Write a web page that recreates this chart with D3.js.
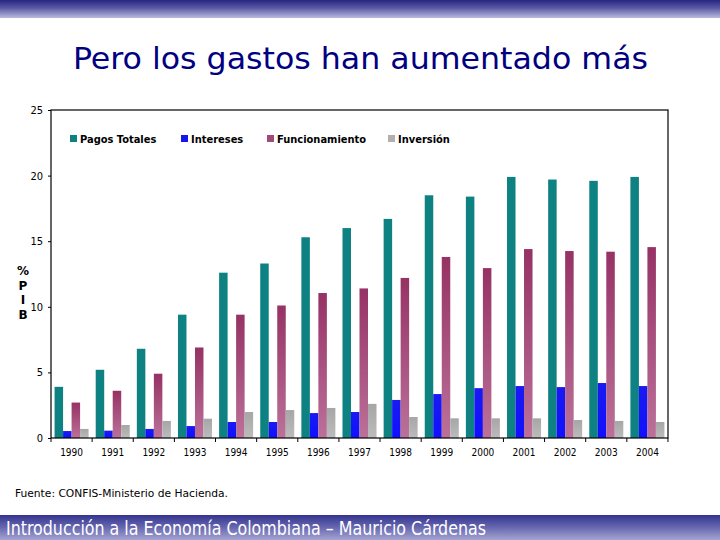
<!DOCTYPE html>
<html>
<head>
<meta charset="utf-8">
<script src="https://cdn.jsdelivr.net/npm/d3@7"></script>
<style>
  body { margin: 0; background: #fff; }
  svg { display: block; }
</style>
</head>
<body>
<div id="chart"></div>
<script>
var years = ['1990','1991','1992','1993','1994','1995','1996','1997','1998','1999','2000','2001','2002','2003','2004'];
var seriesNames = ['Pagos Totales', 'Intereses', 'Funcionamiento', 'Inversión'];
var pagosTotales   = [3.9, 5.2, 6.8, 9.4, 12.6, 13.3, 15.3, 16.0, 16.7, 18.5, 18.4, 19.9, 19.7, 19.6, 19.9];
var intereses      = [0.53, 0.56, 0.69, 0.91, 1.22, 1.22, 1.9, 1.98, 2.9, 3.35, 3.8, 3.96, 3.88, 4.19, 3.96];
var funcionamiento = [2.7, 3.6, 4.9, 6.9, 9.4, 10.1, 11.05, 11.4, 12.2, 13.8, 12.95, 14.4, 14.25, 14.2, 14.55];
var inversion      = [0.69, 0.99, 1.3, 1.47, 1.98, 2.13, 2.29, 2.6, 1.6, 1.5, 1.5, 1.5, 1.37, 1.3, 1.22];
var yTicks = [0, 5, 10, 15, 20, 25];

var series = [pagosTotales, intereses, funcionamiento, inversion];
var fills = ['#0e8282', 'url(#gBlue)', 'url(#gFunc)', 'url(#gInv)'];
var legendFills = ['#0e8282', '#1515f0', '#a04a78', '#b0b0b0'];

var W = 720, H = 540;
var margin = {top: 110, right: 52, bottom: 102, left: 51};
var width = W - margin.left - margin.right,
    height = H - margin.top - margin.bottom;

var svg = d3.select('#chart').append('svg')
    .attr('width', W)
    .attr('height', H);

var defs = svg.append('defs');
function vgrad(id, stops) {
  var g = defs.append('linearGradient').attr('id', id)
    .attr('x1', 0).attr('y1', 0).attr('x2', 0).attr('y2', 1);
  stops.forEach(function(s) {
    g.append('stop').attr('offset', s[0]).attr('stop-color', s[1]);
  });
}
vgrad('gTop', [[0, '#262680'], [0.45, '#5a5aa6'], [1, '#babade']]);
vgrad('gBot', [[0, '#343490'], [0.5, '#6868b0'], [1, '#a4a4d2']]);
vgrad('gFunc', [[0, '#963264'], [1, '#bb7199']]);
vgrad('gBlue', [[0, '#1a1af2'], [1, '#1010ff']]);
vgrad('gInv', [[0, '#a6a6a6'], [1, '#bcbcbc']]);

// banners
svg.append('rect').attr('x', 0).attr('y', 0).attr('width', W).attr('height', 18)
  .style('fill', 'url(#gTop)');
svg.append('rect').attr('x', 0).attr('y', 515).attr('width', W).attr('height', 25)
  .style('fill', 'url(#gBot)');

svg.append('text')
  .attr('x', 73).attr('y', 69)
  .attr('textLength', 575).attr('lengthAdjust', 'spacingAndGlyphs')
  .style('font-family', 'DejaVu Sans Condensed, DejaVu Sans')
  .style('font-size', '31px')
  .style('fill', '#000080')
  .text('Pero los gastos han aumentado más');

svg.append('text')
  .attr('x', 6).attr('y', 535)
  .attr('textLength', 480).attr('lengthAdjust', 'spacingAndGlyphs')
  .style('font-family', 'DejaVu Sans Condensed, DejaVu Sans')
  .style('font-size', '19px')
  .style('fill', '#ffffff')
  .text('Introducción a la Economía Colombiana – Mauricio Cárdenas');

svg.append('text')
  .attr('x', 15).attr('y', 497)
  .attr('textLength', 213).attr('lengthAdjust', 'spacingAndGlyphs')
  .style('font-family', 'DejaVu Sans Condensed, DejaVu Sans')
  .style('font-size', '11px')
  .style('fill', '#000')
  .text('Fuente: CONFIS-Ministerio de Hacienda.');

// scales
var x0 = d3.scaleBand().domain(years).range([0, width])
  .paddingInner(0.173).paddingOuter(0.087);
var x1 = d3.scaleBand().domain(d3.range(series.length)).range([0, x0.bandwidth()]);
var y = d3.scaleLinear().domain([0, 25]).range([height, 0]);

var g = svg.append('g').attr('transform', 'translate(' + margin.left + ',' + margin.top + ')');

// bars
series.forEach(function(vals, s) {
  g.append('g').selectAll('rect').data(vals).enter().append('rect')
    .attr('x', function(d, i) { return x0(years[i]) + x1(s); })
    .attr('width', x1.bandwidth())
    .attr('y', function(d) { return y(d); })
    .attr('height', function(d) { return height - y(d); })
    .style('fill', fills[s]);
});

// frame
g.append('rect').attr('x', 0).attr('y', 0).attr('width', width).attr('height', height)
  .style('fill', 'none').style('stroke', '#000').style('stroke-width', 1.2);

// y axis
var yAxis = g.append('g').call(d3.axisLeft(y).tickValues(yTicks).tickSize(3).tickPadding(5));
yAxis.select('.domain').remove();
yAxis.selectAll('text')
  .style('font-family', 'DejaVu Sans Condensed, DejaVu Sans')
  .style('font-size', '11px').style('fill', '#000');

// x axis: ticks between groups
var step = x0.step();
var xb = g.append('g').attr('transform', 'translate(0,' + height + ')');
xb.selectAll('line').data(d3.range(years.length + 1)).enter().append('line')
  .attr('x1', function(i) { return i * step; })
  .attr('x2', function(i) { return i * step; })
  .attr('y1', 0).attr('y2', 4)
  .style('stroke', '#000');
xb.selectAll('text').data(years).enter().append('text')
  .attr('x', function(d) { return x0(d) + x0.bandwidth() / 2; })
  .attr('y', 18)
  .attr('text-anchor', 'middle')
  .style('font-family', 'DejaVu Sans Condensed, DejaVu Sans')
  .style('font-size', '10px')
  .text(function(d) { return d; });

// y label stacked
var ylab = ['%', 'P', 'I', 'B'];
svg.append('g').selectAll('text').data(ylab).enter().append('text')
  .attr('x', 23).attr('y', function(d, i) { return 275 + i * 14.5; })
  .attr('text-anchor', 'middle')
  .style('font-family', 'DejaVu Sans')
  .style('font-weight', 'bold')
  .style('font-size', '12px')
  .text(function(d) { return d; });

// legend
var legendX = [70, 181, 267, 388];
var lg = svg.append('g');
seriesNames.forEach(function(n, i) {
  lg.append('rect').attr('x', legendX[i]).attr('y', 135).attr('width', 7).attr('height', 7)
    .style('fill', legendFills[i]);
  lg.append('text').attr('x', legendX[i] + 10).attr('y', 143)
    .style('font-family', 'DejaVu Sans Condensed, DejaVu Sans')
    .style('font-weight', 'bold')
    .style('font-size', '11px')
    .text(n);
});
</script>
</body>
</html>
